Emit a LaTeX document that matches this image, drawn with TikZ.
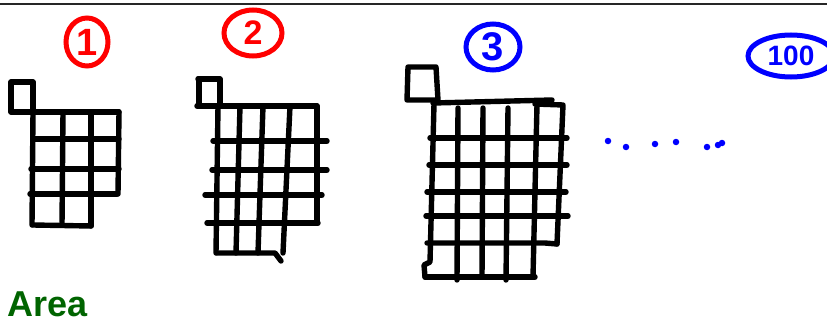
\documentclass[tikz,border=0pt]{standalone}
\usepackage{fontspec}
\setmainfont{Liberation Sans}
\usetikzlibrary{shapes.geometric}
\definecolor{penred}{RGB}{255,0,0}
\definecolor{penblue}{RGB}{0,0,255}
\definecolor{pengreen}{RGB}{0,100,0}
\begin{document}
\begin{tikzpicture}[x=1pt,y=-1pt,
  gridline/.style={line width=5.4pt, line cap=round, line join=round, black},
  numlabel/.style={ellipse, draw, line width=5pt, inner sep=0pt},
  dot/.style={circle, fill=penblue, inner sep=0pt, minimum size=6.5pt}]
\useasboundingbox (0,0) rectangle (827,324);
\draw[line width=2.8pt, black!85] (0,4) -- (827,4);

% labels
\node[numlabel, penred, minimum width=42pt, minimum height=48pt, font=\fontsize{38}{38}\selectfont\bfseries] (n1) at (87,42) {1};
\node[numlabel, penred, minimum width=58pt, minimum height=46pt, font=\fontsize{34}{34}\selectfont\bfseries] (n2) at (253,33) {2};
\node[numlabel, penblue, minimum width=54pt, minimum height=46pt, font=\fontsize{40}{40}\selectfont\bfseries] (n3) at (493,47) {3};
\node[numlabel, penblue, minimum width=86pt, minimum height=42pt, font=\fontsize{28}{28}\selectfont\bfseries] (n100) at (791,56) {100};

% figure 1
\draw[gridline] (11,82) -- (33,82) -- (33,112) -- (11,112) -- cycle;
\draw[gridline] (33,112) -- (119,112);
\draw[gridline] (33,139) -- (119,139);
\draw[gridline] (31,169) -- (119,169);
\draw[gridline] (30,194) -- (117,194);
\draw[gridline] (33,225) -- (91,226);
\draw[gridline] (33,112) -- (32,225);
\draw[gridline] (63,112) -- (62,225);
\draw[gridline] (91,112) -- (91,226);
\draw[gridline] (119,112) -- (118,194);

% figure 2
\draw[gridline] (198,79) -- (220,79) -- (220,106);
\draw[gridline] (199,79) -- (199,106);
\draw[gridline] (197,106) -- (317,106);
\draw[gridline] (213,141) -- (327,141);
\draw[gridline] (212,170) -- (327,170);
\draw[gridline] (205,195) -- (322,195);
\draw[gridline] (207,223) -- (318,223);
\draw[gridline] (217,253) -- (275,253) -- (281,261);
\draw[gridline] (218,106) -- (216,253);
\draw[gridline] (240,106) -- (236,253);
\draw[gridline] (263,106) -- (258,253);
\draw[gridline] (290,106) -- (283,253);
\draw[gridline] (317,106) -- (317,223);

% figure 3
\draw[gridline] (408,67) -- (436,67) -- (438,100) -- (407,100) -- cycle;
\draw[gridline] (433,103) -- (552,100);
\draw[gridline] (430,138) -- (567,138);
\draw[gridline] (429,165) -- (567,165);
\draw[gridline] (427,192) -- (566,192);
\draw[gridline] (426,216) -- (568,216);
\draw[gridline] (427,243) -- (545,243) -- (557,244);
\draw[gridline] (425,277) -- (535,277);
\draw[gridline] (434,104) -- (430,262) -- (424,265) -- (425,277);
\draw[gridline] (458,108) -- (457,280);
\draw[gridline] (483,108) -- (482,277);
\draw[gridline] (508,108) -- (506,280);
\draw[gridline] (537,105) -- (533,277);
\draw[gridline] (535,104) -- (563,105) -- (557,244);

% dots
\node[dot] (d1) at (608,141) {};
\node[dot] (d2) at (626,147) {};
\node[dot] (d3) at (655,144) {};
\node[dot] (d4) at (676,142) {};
\node[dot] (d5) at (707,147) {};
\node[dot] (d6) at (718,145) {};
\node[dot] (d7) at (722,143) {};

% Area
\node[anchor=base west, inner sep=0pt, text=pengreen, font=\fontsize{36}{36}\selectfont\bfseries] (area) at (7,316) {Area};
\end{tikzpicture}
\end{document}
